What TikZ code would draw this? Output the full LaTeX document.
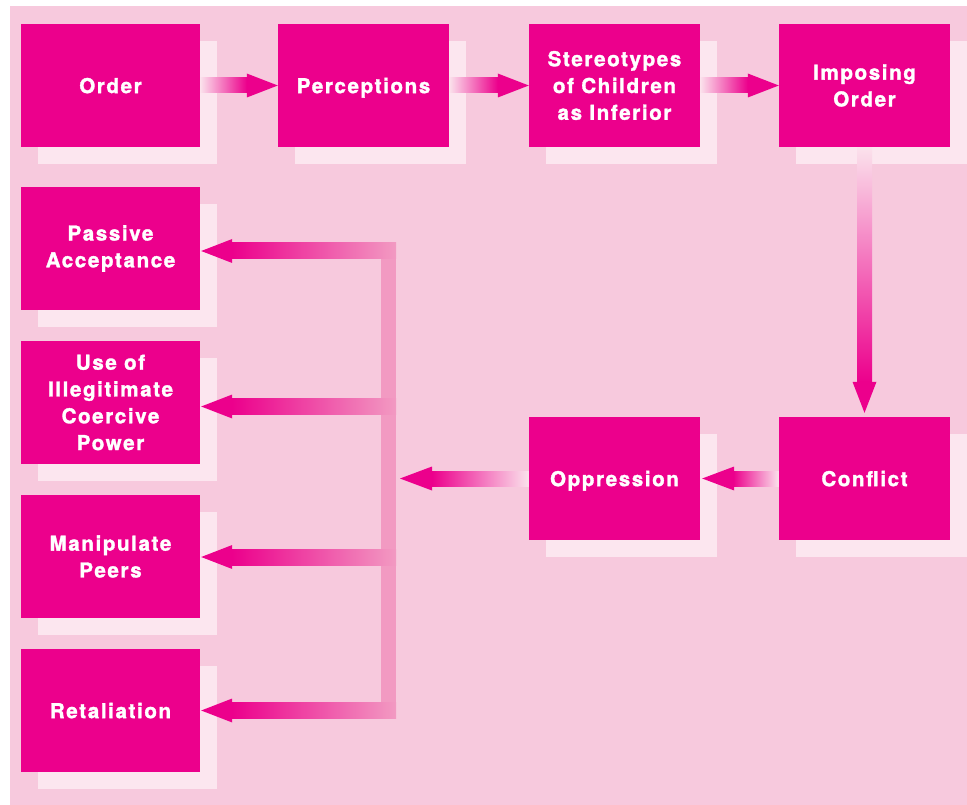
\documentclass[tikz,border=0pt]{standalone}
\usepackage{fontspec}
\setmainfont{TeX Gyre Heros}[LetterSpace=8, BoldFeatures={FakeBold=1.6}]
\usetikzlibrary{calc,shadows}

\definecolor{mag}{RGB}{236,0,140}
\definecolor{panel}{RGB}{247,201,221}
\definecolor{shade}{RGB}{252,230,239}
\definecolor{brk}{RGB}{242,154,194}
\definecolor{lite}{RGB}{251,226,236}

\tikzset{
  box/.style={fill=mag, text=white, align=center, inner sep=0pt,
    minimum height=123, font=\fontsize{20.5}{26.8}\selectfont\bfseries,
    general shadow={fill=shade, shadow xshift=17pt, shadow yshift=-17pt}},
  wide/.style={box, minimum width=179},
  narrow/.style={box, minimum width=171},
  oneline/.style={text depth=0pt},
  tip/.style={fill=mag},
}

\begin{document}
\begin{tikzpicture}[x=1pt, y=-1pt]
  \useasboundingbox (0,0) rectangle (967,805);
  \fill[panel] (10,6) rectangle (967,805);

  % top row
  \node[wide, oneline]   (order) at (110.5,85.5) {Order};
  \node[narrow, oneline] (perc)  at (363.5,85.5) {Perceptions};
  \node[narrow] (stereo) at (614.5,85.5) {Stereotypes\\of Children\\as Inferior};
  \node[narrow] (impose) at (864.5,85.5) {Imposing\\Order};

  % right column
  \node[narrow, oneline] (conf) at (864.5,478.5) {Conflict};
  \node[narrow, oneline] (opp)  at (614.5,478.5) {Oppression};

  % left column of responses
  \node[wide] (pa) at (110.5,248.5) {Passive\\Acceptance};
  \node[wide] (uo) at (110.5,402.5) {Use of\\Illegitimate\\Coercive\\Power};
  \node[wide] (mp) at (110.5,556.5) {Manipulate\\Peers};
  \node[wide, oneline] (rt) at (110.5,710.5) {Retaliation};

  % right edge of the collecting bar
  \coordinate (barR) at (396,478.5);

  % top row arrows
  \foreach \a/\b in {order/perc, perc/stereo, stereo/impose}{
    \shade[left color=lite, right color=mag]
      ($(\a.east)+(0,-7.5)$) rectangle ($(\b.west)+(-31,7.5)$);
    \fill[tip] (\b.west) -- ++(-31,-12) -- ++(0,24) -- cycle;
  }

  % Imposing Order down to Conflict
  \shade[top color=lite, bottom color=mag]
    ($(impose.south)+(-7.5,0)$) rectangle ($(conf.north)+(7.5,-35)$);
  \fill[tip] ($(conf.north)+(0,-4)$) -- ++(-12,-31) -- ++(24,0) -- cycle;

  % Conflict to Oppression
  \shade[left color=mag, right color=lite]
    ($(opp.east)+(33,-7.5)$) rectangle ($(conf.west)+(0,7.5)$);
  \fill[tip] ($(opp.east)+(2,0)$) -- ++(32,-12) -- ++(0,24) -- cycle;

  % Oppression to the collecting bar
  \shade[left color=mag, right color=lite]
    ($(barR)+(36,-7.5)$) rectangle ($(opp.west)+(0,7.5)$);
  \fill[tip] ($(barR)+(4,0)$) -- ++(32,-12) -- ++(0,24) -- cycle;

  % collecting bar
  \fill[brk] ($(barR |- pa.east)+(-15,-6)$) rectangle ($(barR |- rt.east)+(0,6)$);

  % bar out to each response
  \foreach \n/\dy in {pa/2.5, uo/4, mp/0.5, rt/0}{
    \shade[left color=mag, right color=brk]
      ($(\n.east)+(32,\dy-8)$) rectangle ($(barR |- \n.east)+(0,\dy+8)$);
    \fill[tip] ($(\n.east)+(1,\dy)$) -- ++(31,-12) -- ++(0,24) -- cycle;
  }
\end{tikzpicture}
\end{document}
